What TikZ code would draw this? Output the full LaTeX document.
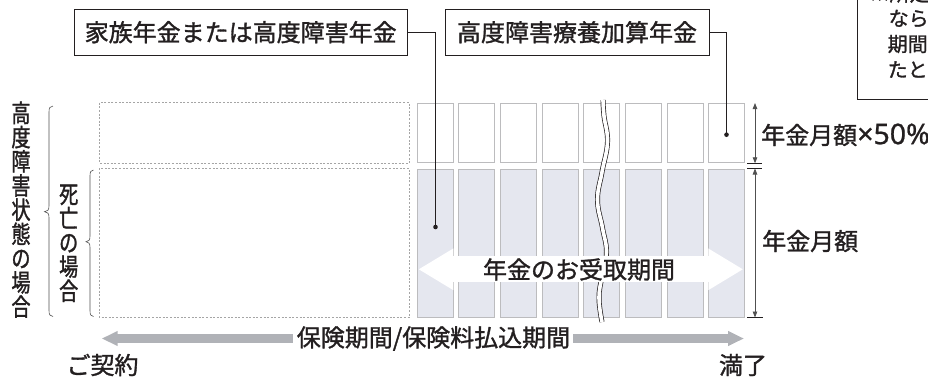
\documentclass[tikz,border=0pt]{standalone}
\usepackage{fontspec}
\setmainfont{Noto Sans CJK JP}[FakeBold=1.3]
\newfontfamily\narrowjp{Noto Sans CJK JP}[FakeStretch=0.78,FakeBold=1.3]
\newfontfamily\latinsans{Noto Sans}[FakeBold=0.8]
\usetikzlibrary{arrows.meta}
\definecolor{colfill}{RGB}{229,231,239}
\definecolor{colline}{RGB}{188,188,190}
\definecolor{dashgray}{RGB}{165,165,165}
\definecolor{arrgray}{RGB}{176,178,183}
\definecolor{dimgray}{RGB}{80,80,80}
\definecolor{ink}{RGB}{35,31,32}
\begin{document}
\begin{tikzpicture}[x=1pt,y=-1pt,
  lbl/.style={font=\fontsize{24}{24}\selectfont, text=ink, inner sep=0pt},
  notelbl/.style={font=\fontsize{20}{20}\selectfont, text=ink, inner sep=0pt, anchor=west},
  vlbl/.style={font=\narrowjp\fontsize{24.5}{24.2}\selectfont, text=ink, inner sep=0pt, align=center},
  labelbox/.style={draw=ink, line width=0.8pt, fill=white, inner sep=0pt, text=ink, font=\fontsize{24}{24}\selectfont},
  colbox/.style={draw=colline, line width=1.1pt},
  dashbox/.style={draw=dashgray, line width=0.7pt, dash pattern=on 2pt off 1.6pt},
  conn/.style={draw=ink, line width=0.8pt},
  dimline/.style={draw=dimgray, line width=0.8pt, {Triangle[width=4.5pt,length=6pt]}-{Triangle[width=4.5pt,length=6pt]}},
  tickline/.style={draw=ink, line width=0.8pt},
  bracestyle/.style={draw=dimgray, line width=0.6pt},
  bigarrow/.style={draw=arrgray, line width=8.6pt, -{Triangle[width=14pt,length=16pt]}},
  whitearrow/.style={draw=white, line width=26pt, {Triangle[width=39pt,length=35pt]}-{Triangle[width=39pt,length=35pt]}}
]
\useasboundingbox (0,0) rectangle (928,376);
\clip (0,0) rectangle (928,376);

% columns
\foreach \i in {0,...,7}{
  \draw[colbox, fill=white] ({417.3+41.63*\i},103.3) rectangle +(36,59.4);
  \draw[colbox, fill=colfill] ({417.3+41.63*\i},169.3) rectangle +(36,148.4);
}

% dashed boxes
\draw[dashbox] (99.3,102.7) rectangle (409.3,163.3);
\draw[dashbox] (99.3,168.3) rectangle (409.3,317.3);

% wavy break
\draw[ink, line width=0.7pt, double=white, double distance=3.6pt]
  plot[smooth, tension=0.7] coordinates {(603,100) (604,116) (607.5,142) (602,172) (597.5,200) (602.5,228) (606.5,252) (602,276) (599,298) (602,322)};

% white double arrow
\coordinate (wl) at (418.3,269.3);
\coordinate (wr) at (743.3,269.3);
\draw[whitearrow] (wl) -- (wr);
\node[lbl] (recv) at (579,269.5) {年金のお受取期間};

% label boxes
\node[labelbox, minimum width=333.3pt, minimum height=45.7pt] (b1) at (240.7,32.2) {家族年金または高度障害年金};
\node[labelbox, minimum width=264pt, minimum height=45.7pt] (b2) at (577,32.2) {高度障害療養加算年金};

\coordinate (d1) at (435.5,227);
\coordinate (d2) at (726.5,134.7);
\draw[conn] (b1.east) -| (d1);
\draw[conn] (b2.east) -| (d2);
\fill[ink] (d1) circle (2.3pt);
\fill[ink] (d2) circle (2.3pt);

% dimension lines
\coordinate (t1) at (755,103);
\coordinate (t2) at (755,163.3);
\coordinate (t3) at (755,168.5);
\coordinate (t4) at (755,317.5);
\draw[dimline] (t1) -- (t2);
\draw[dimline] (t3) -- (t4);
\draw[tickline] ([xshift=-8pt]t2) -- ([xshift=7pt]t2);
\draw[tickline] ([xshift=-8pt]t3) -- ([xshift=7pt]t3);
\draw[tickline] ([xshift=-8pt]t4) -- ([xshift=8pt]t4);

\node[lbl, anchor=west] (half) at (761,134.8) {年金月額{\latinsans\fontsize{28.5}{28}\selectfont ×50\%}};
\node[lbl, anchor=west] (full) at (762,241) {年金月額};

% vertical labels and braces
\node[vlbl] (outer) at (21,209.7) {高\\度\\障\\害\\状\\態\\の\\場\\合};
\node[vlbl] (inner) at (68.7,243.3) {死\\亡\\の\\場\\合};
\draw[bracestyle] (53,106) .. controls (50,106) and (49,108) .. (49,112) -- (49,206)
  .. controls (49,210) and (47.5,211.7) .. (44.5,211.7)
  .. controls (47.5,211.7) and (49,213.5) .. (49,217.5) -- (49,310.5)
  .. controls (49,314.5) and (50,316.5) .. (53,316.5);
\draw[bracestyle] (93.5,170) .. controls (90.8,170) and (90,172) .. (90,176) -- (90,236)
  .. controls (90,240) and (88.8,241.7) .. (86,241.7)
  .. controls (88.8,241.7) and (90,243.5) .. (90,247.5) -- (90,310.5)
  .. controls (90,314.5) and (90.8,316.5) .. (93.5,316.5);

% bottom period arrows
\node[lbl] (period) at (433.5,338.5) {保険期間/保険料払込期間};
\coordinate (pl) at (101.7,338.5);
\coordinate (pr) at (744,338.5);
\draw[bigarrow] ([xshift=-4pt]period.west) -- (pl);
\draw[bigarrow] ([xshift=3pt]period.east) -- (pr);
\node[lbl] (start) at (102.5,365) {ご契約};
\node[lbl] (end) at (743,365) {満了};

% note box (cut by the edge)
\draw[conn] (857.3,-5) -- (857.3,99.3) -- (935,99.3);
\node[notelbl] (n1) at (869.5,-6.5) {※所定};
\node[notelbl] (n2) at (888.5,18.5) {なら};
\node[notelbl] (n3) at (887.5,44) {期間};
\node[notelbl] (n4) at (887.5,69.5) {たと};
\end{tikzpicture}
\end{document}
